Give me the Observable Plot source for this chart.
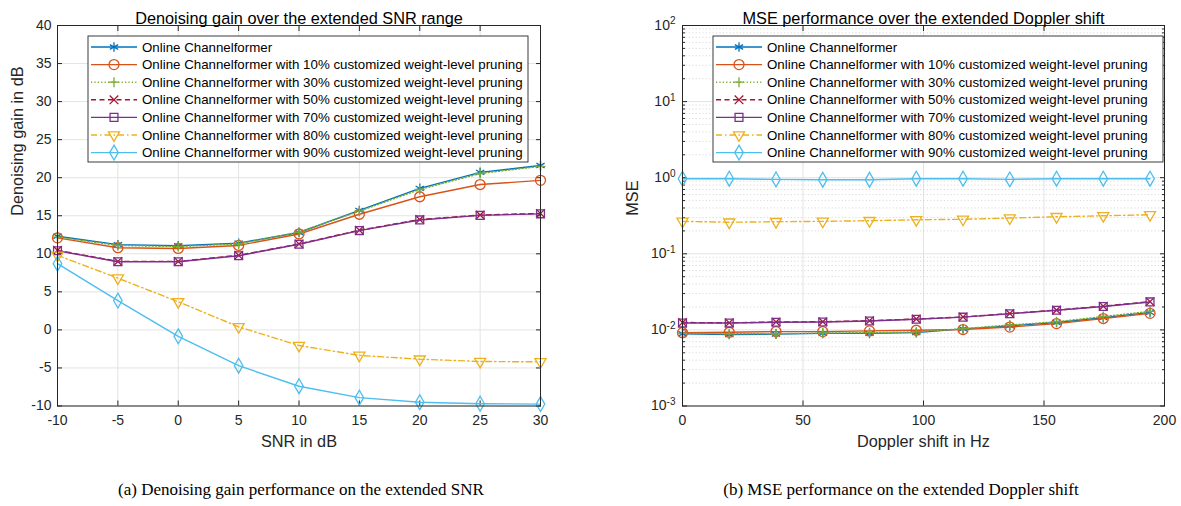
<!DOCTYPE html>
<html><head><meta charset="utf-8">
<script src="https://cdn.jsdelivr.net/npm/d3@7"></script>
<script src="https://cdn.jsdelivr.net/npm/@observablehq/plot@0.6"></script>
<style>
body{margin:0;background:#fff;}
#wrap{position:relative;width:1181px;height:506px;overflow:hidden;}
#left{position:absolute;left:0;top:0;}
#right{position:absolute;left:590px;top:0;}
.cap{position:absolute;top:480px;font-family:"Liberation Serif","Times New Roman",serif;font-size:17px;color:#000;white-space:nowrap;transform:translateX(-50%);}
</style></head><body>
<div id="wrap"><div id="left"></div><div id="right"></div>
<div class="cap" style="left:301px">(a) Denoising gain performance on the extended SNR</div>
<div class="cap" style="left:901px">(b) MSE performance on the extended Doppler shift</div>
</div>
<script>
// ---------- data ----------
const seriesNames = [
  "Online Channelformer",
  "Online Channelformer with 10% customized weight-level pruning",
  "Online Channelformer with 30% customized weight-level pruning",
  "Online Channelformer with 50% customized weight-level pruning",
  "Online Channelformer with 70% customized weight-level pruning",
  "Online Channelformer with 80% customized weight-level pruning",
  "Online Channelformer with 90% customized weight-level pruning"
];
const snr = [-10, -5, 0, 5, 10, 15, 20, 25, 30];
const gainOnline = [12.3, 11.2, 11.05, 11.4, 12.8, 15.7, 18.6, 20.7, 21.6];
const gainP10 = [12.1, 10.8, 10.7, 11.1, 12.6, 15.2, 17.5, 19.1, 19.65];
const gainP30 = [12.2, 11.1, 10.95, 11.3, 12.85, 15.6, 18.45, 20.55, 21.5];
const gainP50 = [10.45, 9.0, 9.0, 9.8, 11.3, 13.1, 14.5, 15.1, 15.3];
const gainP70 = [10.4, 8.95, 8.95, 9.75, 11.25, 13.05, 14.45, 15.05, 15.25];
const gainP80 = [9.8, 6.8, 3.7, 0.4, -2.05, -3.35, -3.85, -4.15, -4.2];
const gainP90 = [8.7, 3.85, -0.85, -4.7, -7.4, -8.9, -9.5, -9.7, -9.75];

const doppler = [0, 19.4, 38.8, 58.2, 77.6, 97, 116.4, 135.8, 155.2, 174.6, 194];
const mseOnline = [0.0089, 0.0087, 0.0088, 0.0090, 0.0090, 0.0092, 0.0103, 0.0113, 0.0125, 0.0145, 0.0170];
const mseP10 = [0.0092, 0.0093, 0.0095, 0.0095, 0.0097, 0.0099, 0.0101, 0.0109, 0.0121, 0.0141, 0.0165];
const mseP30 = [0.0090, 0.0089, 0.0089, 0.0091, 0.0092, 0.0094, 0.0104, 0.0116, 0.0128, 0.0150, 0.0175];
const mseP50 = [0.0125, 0.0124, 0.0127, 0.0128, 0.0132, 0.0139, 0.0148, 0.0164, 0.0182, 0.0205, 0.0235];
const mseP70 = [0.0123, 0.0123, 0.0126, 0.0127, 0.0131, 0.0138, 0.0147, 0.0163, 0.0181, 0.0203, 0.0233];
const mseP80 = [0.267, 0.260, 0.264, 0.267, 0.272, 0.280, 0.284, 0.295, 0.307, 0.316, 0.326];
const mseP90 = [0.97, 0.97, 0.95, 0.94, 0.94, 0.97, 0.97, 0.95, 0.97, 0.97, 0.97];

const gainTicks = [-10, -5, 0, 5, 10, 15, 20, 25, 30, 35, 40];
const snrTicks = [-10, -5, 0, 5, 10, 15, 20, 25, 30];
const dopplerTicks = [0, 50, 100, 150, 200];
const mseTicks = [1e-3, 1e-2, 1e-1, 1e0, 1e1, 1e2];

// ---------- styles ----------
const seriesColors = ["#0072BD", "#D95319", "#77AC30", "#A2142F", "#7E2F8E", "#EDB120", "#4DBEEE"];
const seriesDash = [null, null, "1.2,2.2", "5,3.5", null, "6,3,1.5,3", null];
const seriesSymbols = ["asterisk", "circle", "plus", "times", "square2", "triangle2", "diamond"];
const seriesRotate = [0, 0, 0, 0, 0, 180, 0];
const seriesR = [4.5, 5, 3.3, 4, 5, 5.3, 4.5];
const FONT = "'Liberation Sans', Arial, Helvetica, sans-serif";
const AX = "#262626";
const GRID = "#e3e3e3";

function seriesMarks(xs, ysList) {
  const marks = [];
  ysList.forEach((ys, i) => {
    const rows = xs.map((x, j) => ({x, y: ys[j]}));
    marks.push(Plot.line(rows, {x: "x", y: "y", stroke: seriesColors[i], strokeWidth: 1.4, strokeDasharray: seriesDash[i]}));
    marks.push(Plot.dot(rows, {x: "x", y: "y", symbol: seriesSymbols[i], stroke: seriesColors[i], fill: "none", r: seriesR[i], strokeWidth: 1.3, rotate: seriesRotate[i]}));
  });
  return marks;
}

function legend(svg, box) {
  const g = d3.select(svg).append("g");
  g.append("rect").attr("x", box.x).attr("y", box.y).attr("width", box.w).attr("height", box.h)
    .attr("fill", "white").attr("stroke", AX).attr("stroke-width", 0.9);
  const typeMap = {asterisk: d3.symbolAsterisk, circle: d3.symbolCircle, plus: d3.symbolPlus, times: d3.symbolTimes, square2: d3.symbolSquare2, triangle2: d3.symbolTriangle2, diamond: d3.symbolDiamond};
  seriesNames.forEach((name, i) => {
    const cy = box.y + box.first + i * box.step;
    g.append("line").attr("x1", box.lx1).attr("x2", box.lx2).attr("y1", cy).attr("y2", cy)
      .attr("stroke", seriesColors[i]).attr("stroke-width", 1.4)
      .attr("stroke-dasharray", seriesDash[i]);
    const r = seriesR[i];
    g.append("path").attr("d", d3.symbol(typeMap[seriesSymbols[i]], Math.PI * r * r)())
      .attr("transform", `translate(${(box.lx1 + box.lx2) / 2},${cy}) rotate(${seriesRotate[i]})`)
      .attr("fill", "none").attr("stroke", seriesColors[i]).attr("stroke-width", 1.3);
    g.append("text").attr("x", box.tx).attr("y", cy).attr("dy", "0.35em")
      .attr("text-anchor", "start")
      .attr("font-family", FONT).attr("font-size", box.fs).attr("fill", "#000").text(name);
  });
}

// ---------- left chart ----------
const left = Plot.plot({
  width: 590, height: 460,
  marginLeft: 57, marginRight: 50, marginTop: 25, marginBottom: 54.5,
  style: {fontFamily: FONT, fontSize: "14px", color: AX, background: "white", overflow: "visible"},
  x: {domain: [-10, 30]},
  y: {domain: [-10, 40]},
  marks: [
    Plot.gridX(snrTicks, {stroke: GRID, strokeOpacity: 1}),
    Plot.gridY(gainTicks, {stroke: GRID, strokeOpacity: 1}),
    Plot.axisX({ticks: snrTicks, anchor: "bottom", tickSize: -5, tickPadding: 14, tickFormat: d => String(d), label: null, fill: AX}),
    Plot.axisX({ticks: snrTicks, anchor: "top", tickSize: -5, tickFormat: () => "", label: null}),
    Plot.axisY({ticks: gainTicks, anchor: "left", tickSize: -5, tickPadding: 11, tickFormat: d => String(d), label: null, fill: AX}),
    Plot.axisY({ticks: gainTicks, anchor: "right", tickSize: -5, tickFormat: () => "", label: null}),
    ...seriesMarks(snr, [gainOnline, gainP10, gainP30, gainP50, gainP70, gainP80, gainP90]),
    Plot.frame({stroke: AX, strokeWidth: 1}),
    Plot.text(["Denoising gain over the extended SNR range"], {frameAnchor: "top", dy: -13, fontSize: 16.3, fill: "#000"}),
    Plot.text(["SNR in dB"], {frameAnchor: "bottom", dy: 41, fontSize: 16.3, fill: AX}),
    Plot.text(["Denoising gain in dB"], {frameAnchor: "left", dx: -40, rotate: -90, fontSize: 16.3, fill: AX})
  ]
});
legend(left, {x: 88, y: 36, w: 440, h: 126, first: 11, step: 17.6, lx1: 91, lx2: 137, tx: 142, fs: 13.3});
document.getElementById("left").appendChild(left);

// ---------- right chart ----------
const minorTicks = [];
for (let e = -3; e < 2; e++) for (let m = 2; m <= 9; m++) minorTicks.push(m * Math.pow(10, e));
const right = Plot.plot({
  width: 591, height: 460,
  marginLeft: 92, marginRight: 17, marginTop: 25, marginBottom: 54.5,
  style: {fontFamily: FONT, fontSize: "14px", color: AX, background: "white", overflow: "visible"},
  x: {domain: [0, 200]},
  y: {type: "log", domain: [1e-3, 1e2]},
  marks: [
    Plot.gridX(dopplerTicks, {stroke: GRID, strokeOpacity: 1}),
    Plot.gridY(minorTicks, {stroke: "#dadada", strokeOpacity: 1, strokeDasharray: "1.2,2.2"}),
    Plot.gridY(mseTicks, {stroke: GRID, strokeOpacity: 1}),
    Plot.axisX({ticks: dopplerTicks, anchor: "bottom", tickSize: -5, tickPadding: 14, tickFormat: d => String(d), label: null, fill: AX}),
    Plot.axisX({ticks: dopplerTicks, anchor: "top", tickSize: -5, tickFormat: () => "", label: null}),
    Plot.axisY({ticks: mseTicks, anchor: "left", tickSize: -5, tickPadding: 12, tickFormat: d => "10^" + Math.round(Math.log10(d)), label: null, fill: AX}),
    Plot.axisY({ticks: minorTicks, anchor: "left", tickSize: -3, tickFormat: () => "", label: null}),
    Plot.axisY({ticks: mseTicks, anchor: "right", tickSize: -5, tickFormat: () => "", label: null}),
    Plot.axisY({ticks: minorTicks, anchor: "right", tickSize: -3, tickFormat: () => "", label: null}),
    ...seriesMarks(doppler, [mseOnline, mseP10, mseP30, mseP50, mseP70, mseP80, mseP90]),
    Plot.frame({stroke: AX, strokeWidth: 1}),
    Plot.text(["MSE performance over the extended Doppler shift"], {frameAnchor: "top", dy: -13, fontSize: 16.3, fill: "#000"}),
    Plot.text(["Doppler shift in Hz"], {frameAnchor: "bottom", dy: 41, fontSize: 16.3, fill: AX}),
    Plot.text(["MSE"], {frameAnchor: "left", dx: -50, rotate: -90, fontSize: 16.3, fill: AX})
  ]
});
// superscript exponents on the log axis labels
d3.select(right).selectAll('g[aria-label="y-axis tick label"] text').each(function() {
  const t = this.textContent;
  if (!t.includes("^")) return;
  const [base, exp] = t.split("^");
  const sel = d3.select(this);
  sel.text(base);
  sel.append("tspan").attr("dy", "-0.55em").attr("font-size", "10px").text(exp);
});
legend(right, {x: 123, y: 36, w: 450, h: 126, first: 11, step: 17.6, lx1: 126, lx2: 172, tx: 177, fs: 13.3});
document.getElementById("right").appendChild(right);
</script>
</body></html>
